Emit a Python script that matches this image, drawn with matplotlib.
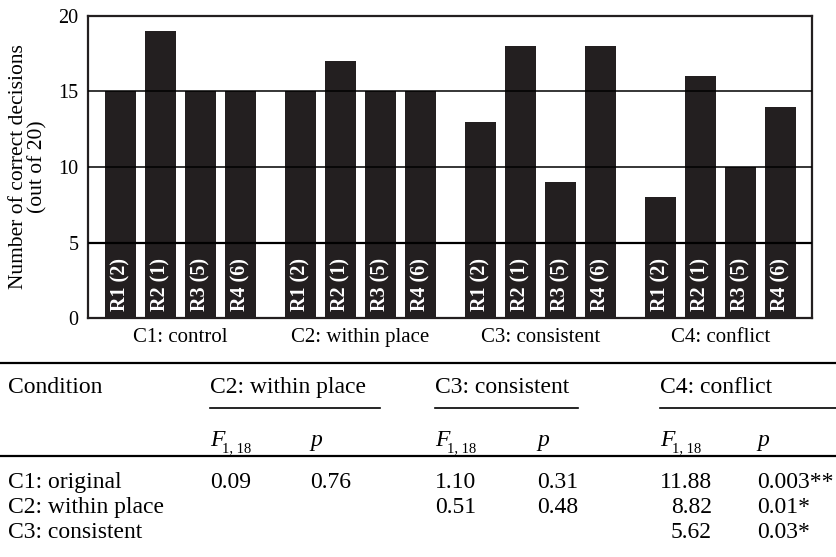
import matplotlib
matplotlib.use('Agg')
import matplotlib.pyplot as plt
from matplotlib.lines import Line2D

# Bar data: correct decisions (out of 20) per condition and route
conditions = ['C1: control', 'C2: within place', 'C3: consistent', 'C4: conflict']
routes = ['R1 (2)', 'R2 (1)', 'R3 (5)', 'R4 (6)']
c1_values = [15, 19, 15, 15]
c2_values = [15, 17, 15, 15]
c3_values = [13, 18, 9, 18]
c4_values = [8, 16, 10, 14]
y_ticks = [0, 5, 10, 15, 20]

# Table data: pairwise comparisons
row_labels = ['C1: original', 'C2: within place', 'C3: consistent']
col_groups = ['C2: within place', 'C3: consistent', 'C4: conflict']
f_values = [['0.09', '1.10', '11.88'],
            ['', '0.51', '8.82'],
            ['', '', '5.62']]
p_values = [['0.76', '0.31', '0.003**'],
            ['', '0.48', '0.01*'],
            ['', '', '0.03*']]

SERIF = ['Liberation Serif', 'DejaVu Serif']
BAR_COLOR = '#231f20'
W, H = 836, 557

plt.rcParams['font.family'] = SERIF

fig = plt.figure(figsize=(W / 100, H / 100), dpi=100)


def fx(px):
    return px / W


def fy(py):
    return 1 - py / H


ax = fig.add_axes([fx(88), fy(318), fx(812 - 88), fy(16) - fy(318)])

all_values = [c1_values, c2_values, c3_values, c4_values]
group_step = 4.5
for g, vals in enumerate(all_values):
    xs = [g * group_step + i for i in range(len(vals))]
    ax.bar(xs, vals, width=0.775, color=BAR_COLOR, zorder=2)
    for x, lab in zip(xs, routes):
        ax.text(x, 0.45, lab, rotation=90, ha='center', va='bottom',
                color='white', fontsize=14.5, fontweight='bold', zorder=4)

# horizontal reference lines drawn over the bars
for yv in y_ticks[1:-1]:
    ax.axhline(yv, color='black', lw=1.6 if yv == 5 else 1.1, zorder=3)

ax.set_xlim(-0.8125, 17.29)
ax.set_ylim(0, 20)
ax.set_yticks(y_ticks)
ax.set_yticklabels([str(v) for v in y_ticks], fontsize=14.5)
centers = [g * group_step + 1.5 for g in range(len(conditions))]
ax.set_xticks(centers)
ax.set_xticklabels(conditions, fontsize=15)
ax.tick_params(axis='both', length=0)
ax.tick_params(axis='y', pad=7)
ax.tick_params(axis='x', pad=7)
for sp in ax.spines.values():
    sp.set_linewidth(1.6)
    sp.set_color(BAR_COLOR)
ax.set_ylabel('Number of correct decisions\n(out of 20)', fontsize=15.5,
              linespacing=0.95, labelpad=8)

# ---- table below the chart ----
def hline(y, x0, x1, lw):
    fig.add_artist(Line2D([fx(x0), fx(x1)], [fy(y), fy(y)],
                          color='black', lw=lw))


TS = 17
hline(363, 0, W, 1.6)
hline(456, 0, W, 1.6)

f_cols = [210, 435, 660]
p_cols = [310, 537, 757]
under_ends = [380, 578, 836]

fig.text(fx(8), fy(393), 'Condition', fontsize=TS, va='baseline')
for g in range(3):
    fig.text(fx(f_cols[g]), fy(393), col_groups[g], fontsize=TS, va='baseline')
    hline(408, f_cols[g], under_ends[g], 1.2)
    fig.text(fx(f_cols[g]), fy(446), 'F', fontsize=TS, style='italic',
             va='baseline')
    fig.text(fx(f_cols[g] + 12), fy(452), '1, 18', fontsize=10.5, va='baseline')
    fig.text(fx(p_cols[g]), fy(446), 'p', fontsize=TS, style='italic',
             va='baseline')

row_base = [488, 513, 538]
for r in range(3):
    fig.text(fx(8), fy(row_base[r]), row_labels[r], fontsize=TS, va='baseline')
    for g in range(3):
        if f_values[r][g]:
            if g == 2:
                fig.text(fx(712), fy(row_base[r]), f_values[r][g],
                         fontsize=TS, va='baseline', ha='right')
            else:
                fig.text(fx(f_cols[g]), fy(row_base[r]), f_values[r][g],
                         fontsize=TS, va='baseline')
        if p_values[r][g]:
            fig.text(fx(p_cols[g]), fy(row_base[r]), p_values[r][g],
                     fontsize=TS, va='baseline')

fig.savefig('out.png', dpi=100)
